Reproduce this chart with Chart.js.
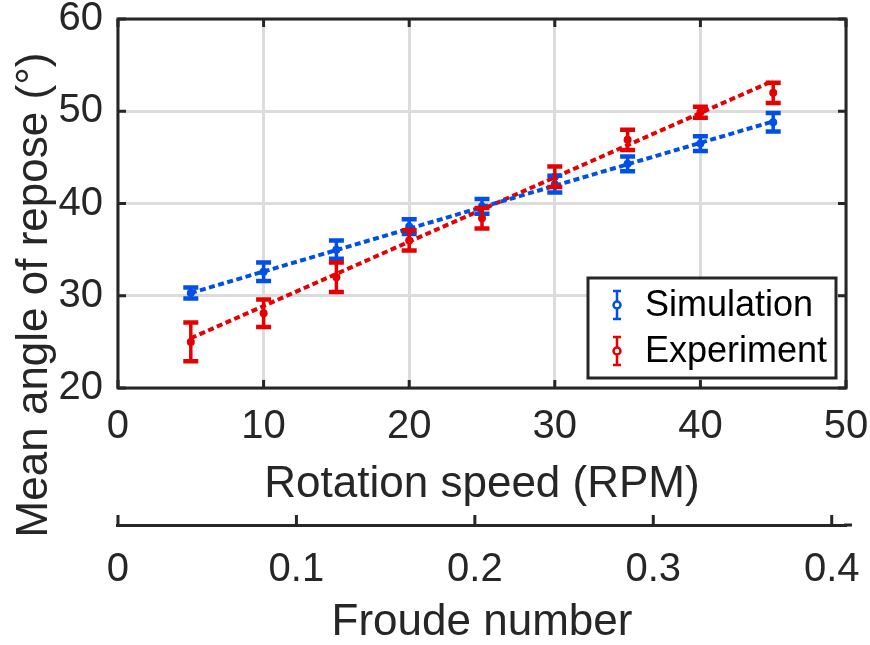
<!DOCTYPE html>
<html>
<head>
<meta charset="utf-8">
<script src="https://cdn.jsdelivr.net/npm/chart.js@4.4.0/dist/chart.umd.min.js"></script>
<style>
  html, body { margin: 0; padding: 0; background: #fff; }
</style>
</head>
<body>
<canvas id="reposeChart" width="870" height="645"></canvas>
<script>
// -- data --
const rpm = [5, 10, 15, 20, 25, 30, 35, 40, 45];
const simMean = [30.3, 32.6, 35.0, 37.5, 39.7, 42.1, 44.3, 46.5, 48.8];
const simErr  = [0.6, 1.0, 1.0, 0.8, 0.8, 0.9, 0.8, 0.8, 1.0];
const expMean = [25.0, 28.1, 32.0, 36.0, 38.4, 42.9, 46.9, 49.9, 52.0];
const expErr  = [2.1, 1.5, 1.6, 1.1, 1.1, 1.1, 1.1, 0.6, 1.1];
// fitted trend lines (end points)
const fitX   = [5, 45];
const simFit = [30.3, 48.9];
const expFit = [25.4, 53.3];
const froudeTicks = [0, 0.1, 0.2, 0.3, 0.4];
const froudeMax = 0.408;

const BLUE = '#0050e6';
const RED = '#e60000';
const INK = '#262626';
const CLEAR = 'rgba(0,0,0,0)';
const FONT = "'Liberation Sans', Arial, sans-serif";

const toXY = (xs, ys) => xs.map((x, i) => ({ x: x, y: ys[i] }));

// error bars, drawn through the chart's scales
const errorBars = {
    id: 'errorBars',
    afterDatasetsDraw(chart) {
        const ctx = chart.ctx, xs = chart.scales.x, ys = chart.scales.y;
        const groups = [[simMean, simErr, BLUE], [expMean, expErr, RED]];
        ctx.save();
        groups.forEach(([m, e, col]) => {
            ctx.strokeStyle = col;
            rpm.forEach((r, i) => {
                const px = xs.getPixelForValue(r);
                const y1 = ys.getPixelForValue(m[i] - e[i]);
                const y2 = ys.getPixelForValue(m[i] + e[i]);
                ctx.lineWidth = 3.5;
                ctx.beginPath();
                ctx.moveTo(px, y1); ctx.lineTo(px, y2);
                ctx.stroke();
                ctx.lineWidth = 4.5;
                ctx.beginPath();
                ctx.moveTo(px - 7.5, y1); ctx.lineTo(px + 7.5, y1);
                ctx.moveTo(px - 7.5, y2); ctx.lineTo(px + 7.5, y2);
                ctx.stroke();
            });
        });
        ctx.restore();
    }
};

// matlab style box, inward ticks, y title and legend
const boxAndLegend = {
    id: 'boxAndLegend',
    afterDraw(chart) {
        const ctx = chart.ctx, a = chart.chartArea;
        const xs = chart.scales.x, ys = chart.scales.y, x2 = chart.scales.x2;
        ctx.save();
        ctx.strokeStyle = INK;
        ctx.lineWidth = 3;
        ctx.beginPath();
        xs.ticks.forEach(t => {
            const px = xs.getPixelForValue(t.value);
            ctx.moveTo(px, a.bottom); ctx.lineTo(px, a.bottom - 8);
            ctx.moveTo(px, a.top); ctx.lineTo(px, a.top + 8);
        });
        ys.ticks.forEach(t => {
            const py = ys.getPixelForValue(t.value);
            ctx.moveTo(a.left, py); ctx.lineTo(a.left + 8, py);
            ctx.moveTo(a.right, py); ctx.lineTo(a.right - 8, py);
        });
        // froude axis ticks point up; its line runs a bit past the box
        froudeTicks.forEach(v => {
            const px = x2.getPixelForValue(v);
            ctx.moveTo(px, x2.top); ctx.lineTo(px, x2.top - 10);
        });
        ctx.moveTo(x2.right - 2, x2.top); ctx.lineTo(x2.right + 6, x2.top);
        ctx.stroke();
        ctx.strokeRect(a.left, a.top, a.right - a.left, a.bottom - a.top);

        // y title, centred on the whole figure like the original
        ctx.save();
        ctx.translate(35, 295);
        ctx.rotate(-Math.PI / 2);
        ctx.fillStyle = INK;
        ctx.font = '44px ' + FONT;
        ctx.textAlign = 'center';
        ctx.textBaseline = 'middle';
        ctx.fillText('Mean angle of repose (°)', 0, 0);
        ctx.restore();

        // legend
        const lx = a.right - 258, ly = a.bottom - 110, lw = 248, lh = 100;
        ctx.fillStyle = '#fff';
        ctx.fillRect(lx, ly, lw, lh);
        const items = [['Simulation', BLUE, ly + 27], ['Experiment', RED, ly + 73]];
        items.forEach(([label, col, cy]) => {
            const ix = lx + 29;
            ctx.strokeStyle = col;
            ctx.lineWidth = 2.5;
            ctx.beginPath();
            ctx.moveTo(ix, cy - 14); ctx.lineTo(ix, cy + 14);
            ctx.moveTo(ix - 4, cy - 14); ctx.lineTo(ix + 4, cy - 14);
            ctx.moveTo(ix - 4, cy + 14); ctx.lineTo(ix + 4, cy + 14);
            ctx.stroke();
            ctx.beginPath();
            ctx.arc(ix, cy, 3.5, 0, Math.PI * 2);
            ctx.fillStyle = '#fff';
            ctx.fill();
            ctx.stroke();
            ctx.fillStyle = '#000';
            ctx.font = '36px ' + FONT;
            ctx.textBaseline = 'middle';
            ctx.textAlign = 'left';
            ctx.fillText(label, lx + 57, cy + 1);
        });
        ctx.strokeStyle = INK;
        ctx.lineWidth = 3;
        ctx.strokeRect(lx, ly, lw, lh);
        ctx.restore();
    }
};

const ctxRepose = document.getElementById('reposeChart').getContext('2d');
new Chart(ctxRepose, {
    type: 'line',
    data: {
        datasets: [
            {
                label: 'Simulation fit',
                data: toXY(fitX, simFit),
                borderColor: BLUE,
                borderWidth: 4,
                borderDash: [6, 3.5],
                pointRadius: 0,
                fill: false
            },
            {
                label: 'Experiment fit',
                data: toXY(fitX, expFit),
                borderColor: RED,
                borderWidth: 4,
                borderDash: [6, 3.5],
                pointRadius: 0,
                fill: false
            },
            {
                label: 'Simulation',
                data: toXY(rpm, simMean),
                showLine: false,
                pointRadius: 4,
                pointBorderWidth: 0,
                pointBackgroundColor: BLUE,
                borderColor: BLUE
            },
            {
                label: 'Experiment',
                data: toXY(rpm, expMean),
                showLine: false,
                pointRadius: 4,
                pointBorderWidth: 0,
                pointBackgroundColor: RED,
                borderColor: RED
            }
        ]
    },
    options: {
        responsive: false,
        animation: false,
        layout: { padding: { left: 58.5, right: 24, top: 19, bottom: 0 } },
        plugins: {
            legend: { display: false },
            tooltip: { enabled: false }
        },
        scales: {
            x: {
                type: 'linear',
                position: 'bottom',
                min: 0,
                max: 50,
                ticks: {
                    stepSize: 10,
                    padding: 0,
                    color: INK,
                    font: { family: FONT, size: 40, lineHeight: 1 }
                },
                grid: { color: '#dcdcdc', lineWidth: 3, drawTicks: true, tickLength: 19, tickColor: CLEAR },
                border: { display: false },
                title: {
                    display: true,
                    text: 'Rotation speed (RPM)',
                    color: INK,
                    font: { family: FONT, size: 44, lineHeight: 1 },
                    padding: { top: 16, bottom: 18 }
                }
            },
            x2: {
                type: 'linear',
                position: 'bottom',
                min: 0,
                max: froudeMax,
                afterBuildTicks: s => {
                    s.ticks = froudeTicks.map(v => ({ value: v }));
                },
                ticks: {
                    padding: 0,
                    color: INK,
                    font: { family: FONT, size: 40, lineHeight: 1 },
                    callback: v => String(v)
                },
                grid: { drawOnChartArea: false, drawTicks: true, tickLength: 25, tickColor: CLEAR },
                border: { display: true, color: INK, width: 3 },
                title: {
                    display: true,
                    text: 'Froude number',
                    color: INK,
                    font: { family: FONT, size: 44, lineHeight: 1 },
                    padding: { top: 11, bottom: 0 }
                }
            },
            y: {
                min: 20,
                max: 60,
                ticks: {
                    stepSize: 10,
                    padding: 0,
                    color: INK,
                    font: { family: FONT, size: 40, lineHeight: 0.9 }
                },
                grid: { color: '#dcdcdc', lineWidth: 3, drawTicks: true, tickLength: 15, tickColor: CLEAR },
                border: { display: false }
            }
        }
    },
    plugins: [errorBars, boxAndLegend]
});
</script>
</body>
</html>
